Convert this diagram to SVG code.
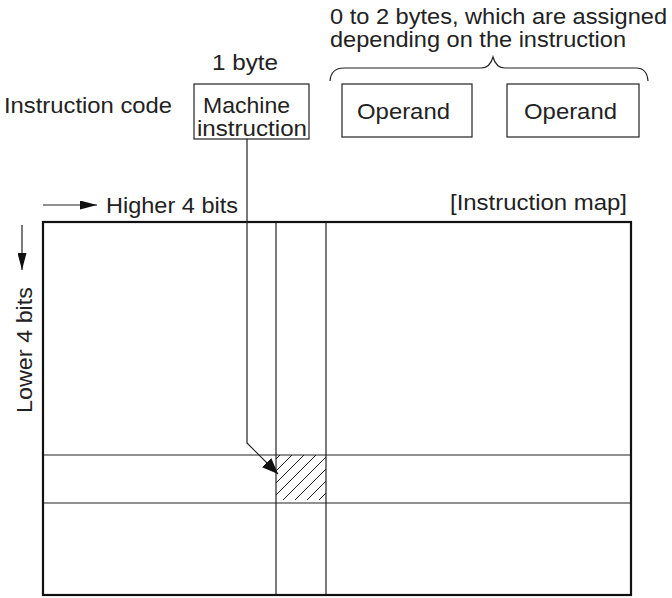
<svg xmlns="http://www.w3.org/2000/svg" width="672" height="598" viewBox="0 0 672 598">
<defs>
<style>
text{font-family:"Liberation Sans",Arial,sans-serif;font-size:22px;fill:#222}
.box{fill:#fff;stroke:#222;stroke-width:1.2}
.ln{stroke:#222;stroke-width:1.2;fill:none}
.hatch{stroke:#222;stroke-width:1}
</style>
<marker id="ah2" markerWidth="17" markerHeight="9" refX="17" refY="4.5" orient="auto" markerUnits="userSpaceOnUse">
<path d="M0,0 L17,4.5 L0,9 Z" fill="#111"/>
</marker>
<marker id="ah3" markerWidth="16" markerHeight="13" refX="16" refY="6.5" orient="auto" markerUnits="userSpaceOnUse">
<path d="M0,0 L16,6.5 L0,13 Z" fill="#111"/>
</marker>
<clipPath id="cell"><rect x="276" y="455" width="50" height="48"/></clipPath>
</defs>
<rect width="672" height="598" fill="#fff"/>

<g id="labels">
<text x="330" y="24" textLength="337" lengthAdjust="spacingAndGlyphs">0 to 2 bytes, which are assigned</text>
<text x="330" y="47" textLength="296" lengthAdjust="spacingAndGlyphs">depending on the instruction</text>
<text x="212" y="70" textLength="66" lengthAdjust="spacingAndGlyphs">1 byte</text>
<text x="4" y="113" textLength="168" lengthAdjust="spacingAndGlyphs">Instruction code</text>
<text x="450" y="210" textLength="177" lengthAdjust="spacingAndGlyphs">[Instruction map]</text>
<text x="106" y="213" textLength="132" lengthAdjust="spacingAndGlyphs">Higher 4 bits</text>
<text transform="translate(32,413) rotate(-90)" textLength="126" lengthAdjust="spacingAndGlyphs">Lower 4 bits</text>
</g>

<g id="brace">
<path class="ln" d="M330,81 Q331,68 344,68 L481,68 Q490,68 493,57 Q496,68 505,68 L636,68 Q647,68 648,81"/>
</g>

<g id="machine-instruction">
<rect class="box" x="194" y="84" width="115" height="55"/>
<text x="203" y="113" textLength="87" lengthAdjust="spacingAndGlyphs">Machine</text>
<text x="197" y="136" textLength="110" lengthAdjust="spacingAndGlyphs">instruction</text>
</g>

<g id="operand-1">
<rect class="box" x="342" y="84" width="130" height="53"/>
<text x="357" y="119" textLength="93" lengthAdjust="spacingAndGlyphs">Operand</text>
</g>

<g id="operand-2">
<rect class="box" x="507" y="84" width="132" height="53"/>
<text x="524" y="119" textLength="93" lengthAdjust="spacingAndGlyphs">Operand</text>
</g>

<g id="instruction-map">
<line class="ln" x1="276" y1="222" x2="276" y2="595"/>
<line class="ln" x1="326" y1="222" x2="326" y2="595"/>
<line class="ln" x1="43" y1="455" x2="631" y2="455"/>
<line class="ln" x1="43" y1="503" x2="631" y2="503"/>
<g clip-path="url(#cell)" class="hatch">
<line x1="735" y1="0" x2="235" y2="500"/>
<line x1="747" y1="0" x2="247" y2="500"/>
<line x1="759" y1="0" x2="259" y2="500"/>
<line x1="771" y1="0" x2="271" y2="500"/>
<line x1="783" y1="0" x2="283" y2="500"/>
<line x1="795" y1="0" x2="295" y2="500"/>
<line x1="807" y1="0" x2="307" y2="500"/>
<line x1="819" y1="0" x2="319" y2="500"/>
</g>
<rect x="43" y="222" width="588" height="373" fill="none" stroke="#111" stroke-width="2.2"/>
</g>

<g id="connectors">
<line class="ln" x1="43" y1="205" x2="97" y2="205" marker-end="url(#ah2)"/>
<line class="ln" x1="22" y1="225" x2="22" y2="270" marker-end="url(#ah2)"/>
<path class="ln" d="M247,139 L247,443 L278,474" marker-end="url(#ah3)"/>
</g>
</svg>
